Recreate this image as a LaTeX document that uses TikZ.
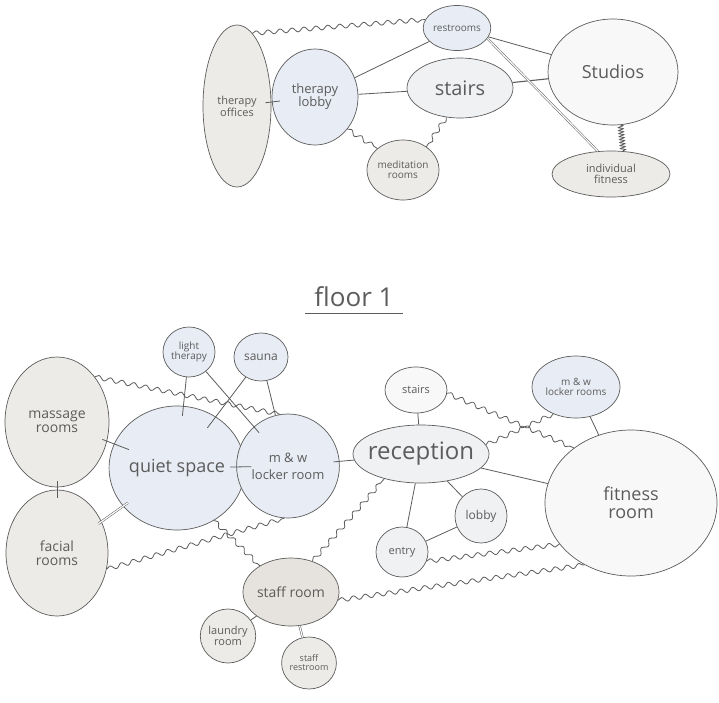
\documentclass[tikz,border=0pt]{standalone}
\usepackage{fontspec}
\setmainfont{Open Sans}
\usetikzlibrary{shapes.geometric,decorations.pathmorphing}

\definecolor{pencil}{RGB}{92,92,92}
\definecolor{warm}{RGB}{237,235,231}
\definecolor{warmdark}{RGB}{230,227,222}
\definecolor{cool}{RGB}{232,236,244}
\definecolor{pale}{RGB}{240,241,243}
\definecolor{paper}{RGB}{248,248,248}

\tikzset{
  room/.style={ellipse, draw=pencil, line width=0.7pt, inner sep=0pt,
    align=center, text=pencil, font=\fontsize{#1}{#1}\selectfont},
  room/.default=11,
  link/.style={draw=pencil, line width=0.8pt},
  wavy/.style={link, decorate,
    decoration={snake, segment length=12pt, amplitude=2.2pt}},
  coil/.style={link, decorate,
    decoration={snake, segment length=3pt, amplitude=2.5pt}},
  twin/.style={draw=pencil, double=white, double distance=1.2pt, line width=0.5pt}
}

\begin{document}
\begin{tikzpicture}[x=1pt, y=-1pt]
  \useasboundingbox[fill=white] (0,0) rectangle (719,702);

  % upper floor
  \node[room=11, fill=warm, minimum width=68pt, minimum height=162pt] (offices) at (237,106) {therapy\\offices};
  \node[room=13, fill=cool, minimum width=86pt, minimum height=96pt] (tlobby) at (315,97) {therapy\\lobby};
  \node[room=10, fill=cool, minimum width=59pt, minimum height=45pt] (restrooms) at (457,28) {restrooms};
  \node[room=20, fill=pale, minimum width=106pt, minimum height=60pt] (stairs) at (460,88) {stairs};
  \node[room=18, fill=paper, minimum width=130pt, minimum height=106pt] (studios) at (613,72) {Studios};
  \node[room=10, fill=warm, minimum width=68pt, minimum height=60pt] (meditation) at (403,170) {meditation\\rooms};
  \node[room=11, fill=warm, minimum width=118pt, minimum height=46pt] (indfit) at (611,174) {individual\\fitness};

  \draw[wavy] (offices.78) -- (restrooms.165);
  \draw[link, shorten <=-6pt, shorten >=-8pt] (offices) -- (tlobby);
  \draw[link] (tlobby) -- (restrooms);
  \draw[link] (tlobby) -- (stairs);
  \draw[wavy] (tlobby.-45) -- (meditation.140);
  \draw[wavy] (stairs.-115) -- (meditation.45);
  \draw[link] (restrooms) -- (studios);
  \draw[link, line width=1.1pt] (stairs) -- (studios);
  \draw[twin] (restrooms.-19) -- (indfit.120);
  \draw[coil] (studios.-82) -- (indfit.62);

  % floor 1
  \node[text=pencil, font=\fontsize{26}{26}\selectfont] (floor) at (354,297) {floor 1};
  \draw[link] ([xshift=-6pt, yshift=-3pt]floor.south west) -- ([xshift=6pt, yshift=-3pt]floor.south east);

  \node[room=14, fill=warm, minimum width=104pt, minimum height=130pt] (massage) at (57,422) {massage\\rooms};
  \node[room=14, fill=warm, minimum width=102pt, minimum height=126pt] (facial) at (57,553) {facial\\rooms};
  \node[room=18, fill=cool, minimum width=126pt, minimum height=124pt] (quiet) at (177,468) {quiet space};
  \node[room=10, fill=cool, minimum width=52pt, minimum height=50pt] (light) at (189,352) {light\\therapy};
  \node[room=12, fill=cool, minimum width=54pt, minimum height=48pt] (sauna) at (261,357) {sauna};
  \node[room=13, fill=cool, minimum width=90pt, minimum height=104pt] (mwlocker) at (288,466) {m \& w\\[4pt]locker room};
  \node[room=24, fill=pale, inner xsep=-9pt, minimum width=136pt, minimum height=58pt] (reception) at (421,454) {reception};
  \node[room=11, fill=paper, minimum width=62pt, minimum height=46pt] (stairsb) at (416,390) {stairs};
  \node[room=10, fill=cool, minimum width=88pt, minimum height=62pt] (mwrooms) at (576,387) {m \& w\\locker rooms};
  \node[room=18, fill=paper, minimum width=172pt, minimum height=146pt] (fitness) at (631,503) {fitness\\room};
  \node[room=12, fill=pale, minimum width=52pt, minimum height=54pt] (lobby) at (481,516) {lobby};
  \node[room=11, fill=pale, minimum width=52pt, minimum height=50pt] (entry) at (402,552) {entry};
  \node[room=14, fill=warmdark, minimum width=92pt, minimum height=68pt] (staff) at (291,592) {staff room};
  \node[room=11, fill=warm, minimum width=54pt, minimum height=54pt] (laundry) at (228,636) {laundry\\room};
  \node[room=9, fill=warm, minimum width=48pt, minimum height=52pt] (srest) at (309,663) {staff\\restroom};

  \draw[link, shorten <=-6pt, shorten >=-8pt] (massage) -- (facial);
  \draw[link, shorten <=-5pt, shorten >=-16pt] (massage) -- (quiet);
  \draw[twin, shorten <=-4pt, shorten >=-6pt] (facial) -- (quiet);
  \draw[link, shorten >=-10pt] (light) -- (quiet);
  \draw[link, shorten >=-14pt] (sauna) -- (quiet);
  \draw[link, shorten >=-8pt] (light) -- (mwlocker);
  \draw[link] (sauna) -- (mwlocker);
  \draw[link, shorten <=-6pt, shorten >=-6pt] (quiet) -- (mwlocker);
  \draw[link, shorten <=-6pt] (mwlocker) -- (reception);
  \draw[wavy] (massage.50) -- (mwlocker.99);
  \draw[wavy] (quiet.-55) -- (staff.140);
  \draw[wavy] (facial.-18) -- (mwlocker.-94);
  \draw[wavy] (staff.55) -- (reception.-146);
  \draw[wavy] (staff.-10) -- (fitness.-127);
  \draw[wavy] (entry.-21) -- (fitness.-150);
  \draw[wavy] (stairsb.-6) -- (fitness.136);
  \draw[wavy] (reception.8) -- (mwrooms.-130);
  \draw[link] (reception) -- (stairsb);
  \draw[link] (reception) -- (fitness);
  \draw[link] (reception) -- (entry);
  \draw[link] (reception) -- (lobby);
  \draw[link] (lobby) -- (entry);
  \draw[link] (mwrooms) -- (fitness);
  \draw[link] (staff) -- (laundry);
  \draw[twin] (staff) -- (srest);
\end{tikzpicture}
\end{document}
